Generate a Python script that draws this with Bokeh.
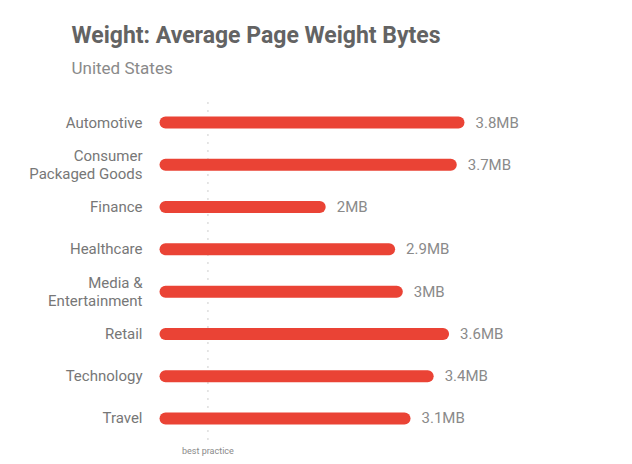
from bokeh.plotting import figure
from bokeh.models import FactorRange, Title, ColumnDataSource, Range1d
from bokeh.core.properties import value
from bokeh.embed import file_html
from bokeh.resources import INLINE

categories = ["Automotive", "Consumer\nPackaged Goods", "Finance", "Healthcare",
              "Media &\nEntertainment", "Retail", "Technology", "Travel"]
weights_mb = [3.8, 3.7, 2.0, 2.9, 3.0, 3.6, 3.4, 3.1]
value_labels = ["3.8MB", "3.7MB", "2MB", "2.9MB", "3MB", "3.6MB", "3.4MB", "3.1MB"]
best_practice_mb = 0.55
best_practice_label = "best practice"
title_text = "Weight: Average Page Weight Bytes"
subtitle_text = "United States"

FONT = "Roboto"
RED = "#EA4335"

src = ColumnDataSource(dict(cat=categories, w=weights_mb, zero=[0] * len(weights_mb), lbl=value_labels))

p = figure(width=616, height=456, output_backend="svg", toolbar_location=None,
           y_range=FactorRange(factors=categories[::-1], range_padding=0.4, range_padding_units="absolute"),
           x_range=Range1d(-0.104, 5.11),
           min_border_left=157, min_border_right=57, min_border_bottom=0, min_border_top=84)
p.title.visible = False

p.add_layout(Title(text=subtitle_text, text_font=FONT, text_font_size="17px", text_font_style="normal",
                   text_color="#8a8a8a", align="left", offset=-86, standoff=13), "above")
p.add_layout(Title(text=title_text, text_font=FONT, text_font_size="23px", text_font_style="bold",
                   text_color="#636363", align="left", offset=-86, standoff=1), "above")

p.outline_line_color = None
p.background_fill_color = "white"
p.border_fill_color = "white"
p.xgrid.visible = False
p.ygrid.visible = False
p.xaxis.visible = False

ax = p.yaxis[0]
ax.axis_line_color = None
ax.major_tick_line_color = None
ax.minor_tick_line_color = None
ax.major_tick_out = 0
ax.major_label_standoff = 15
ax.major_label_text_font = FONT
ax.major_label_text_font_size = "15px"
ax.major_label_text_color = "#777777"
ax.major_label_text_line_height = 1.0

# best practice dotted line
p.segment(x0=[best_practice_mb], x1=[best_practice_mb],
          y0=[(categories[-1], -0.5)], y1=[(categories[0], 0.5)],
          line_color="#bdbdbd", line_width=1.5, line_dash="1 7")
p.text(x=[best_practice_mb], y=[(categories[-1], -0.78)], text=[best_practice_label],
       text_font=value(FONT), text_font_size="9px", text_color="#8a8a8a",
       text_align="center", text_baseline="middle")

p.segment(x0="zero", x1="w", y0="cat", y1="cat", source=src,
          line_color=RED, line_width=12, line_cap="round")
p.text(x="w", y="cat", text="lbl", source=src, x_offset=17,
       text_font=value(FONT), text_font_size="15px", text_color="#8a8a8a",
       text_align="left", text_baseline="middle")

open("out.html", "w").write(file_html(p, INLINE))
